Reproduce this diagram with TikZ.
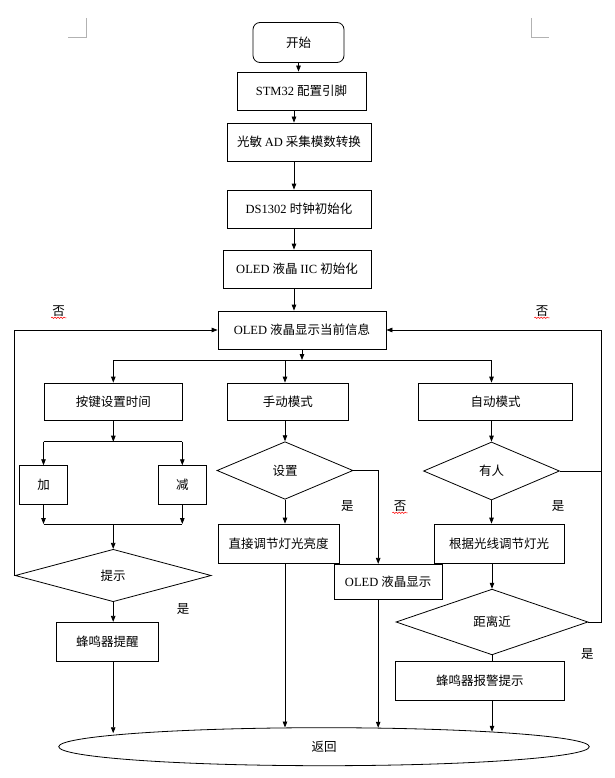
\documentclass[tikz,border=0pt]{standalone}
\usepackage{fontspec}
\setmainfont{Liberation Serif}
\newfontfamily\cjk{Noto Sans CJK SC}
\usetikzlibrary{shapes.geometric,arrows.meta,decorations.pathmorphing}

\tikzset{
  box/.style={draw, rectangle, inner sep=0pt, font=\cjk\fontsize{12.5}{15}\selectfont},
  choice/.style={draw, diamond, inner sep=0pt, font=\cjk\fontsize{12.5}{15}\selectfont},
  lbl/.style={inner sep=1pt, font=\cjk\fontsize{12.5}{15}\selectfont},
  arr/.style={-{Triangle[length=6pt,width=4.5pt]}},
  typo/.style={red, line width=0.5pt, decorate, decoration={snake, amplitude=0.7pt, segment length=3pt}},
}

\begin{document}
\begin{tikzpicture}[x=1pt, y=-1pt, line width=0.8pt]

\def\xr{601.4}; % right loop
\def\ybus{360};
\def\ysplit{441.7};
\def\ymerge{524};

\useasboundingbox (0,0) rectangle (614,778);

% page corner marks
\draw[gray!60, line width=0.5pt] (86,18) -- (86,37) -- (68,37);
\draw[gray!60, line width=0.5pt] (531,18) -- (531,37) -- (549,37);

% init chain
\node[box, rounded corners=7pt, minimum width=91pt, minimum height=40pt] (start) at (298.5,42.5) {开始};
\node[box, minimum width=129pt, minimum height=38pt] (stm) at (301.5,91) {\rmfamily STM32 \cjk 配置引脚};
\node[box, minimum width=144pt, minimum height=38pt] (adc) at (299,142) {光敏 \rmfamily AD \cjk 采集模数转换};
\node[box, minimum width=144pt, minimum height=38pt] (rtc) at (299,209) {\rmfamily DS1302 \cjk 时钟初始化};
\node[box, minimum width=148pt, minimum height=38pt] (iic) at (297,269) {\rmfamily OLED \cjk 液晶 \rmfamily IIC \cjk 初始化};
\node[box, minimum width=168pt, minimum height=38pt] (info) at (302,330) {\rmfamily OLED \cjk 液晶显示当前信息};

% three branches
\node[box, minimum width=138.5pt, minimum height=37pt] (key) at (113.3,401.5) {按键设置时间};
\node[box, minimum width=120.5pt, minimum height=37pt] (manual) at (287.8,401.5) {手动模式};
\node[box, minimum width=154pt, minimum height=37pt] (auto) at (495.5,401.5) {自动模式};

\node[box, minimum width=47.7pt, minimum height=38.6pt] (add) at (43.5,485) {加};
\node[box, minimum width=48pt, minimum height=38.6pt] (sub) at (182.3,485) {减};
\node[choice, minimum width=196pt, minimum height=52.4pt] (hint) at (113.2,575.5) {提示};
\node[box, minimum width=102pt, minimum height=39pt] (buzz) at (107.3,641.8) {蜂鸣器提醒};

\node[choice, minimum width=136pt, minimum height=57.6pt] (set) at (285,470.5) {设置};
\node[box, minimum width=121pt, minimum height=39.3pt] (direct) at (278.5,543.7) {直接调节灯光亮度};
\node[box, minimum width=108.4pt, minimum height=35pt] (oled) at (388.2,581.8) {\rmfamily OLED \cjk 液晶显示};

\node[choice, minimum width=136pt, minimum height=58pt] (person) at (491.5,471) {有人};
\node[box, minimum width=130pt, minimum height=39.3pt] (light) at (499.2,543.7) {根据光线调节灯光};
\node[choice, minimum width=192pt, minimum height=65.7pt] (near) at (492,622) {距离近};
\node[box, minimum width=168.7pt, minimum height=38.3pt] (alarm) at (479.9,680.8) {蜂鸣器报警提示};

\node[draw, ellipse, inner sep=0pt, minimum width=530.6pt, minimum height=38pt,
      font=\cjk\fontsize{12.5}{15}\selectfont] (ret) at (324,746.7) {返回};

% yes / no
\node[lbl] (no1) at (58.7,311) {否};
\node[lbl] (no2) at (542,311) {否};
\node[lbl] (yes1) at (347.3,506) {是};
\node[lbl] (no3) at (400,506) {否};
\node[lbl] (yes2) at (558,506) {是};
\node[lbl] (yes3) at (183.2,609) {是};
\node[lbl] (yes4) at (587.3,654) {是};
\foreach \n in {no1,no2,no3}
  \draw[typo] (\n.south west) -- (\n.south east);

\coordinate (axis) at (294,0);
\coordinate (bus) at (0,\ybus);
\coordinate (split) at (0,\ysplit);
\coordinate (merge) at (0,\ymerge);
\coordinate (rloop) at (\xr,330);

\draw[arr] (start.south) -- (start.south |- stm.north);
\draw[arr] (stm.south -| axis) -- (adc.north -| axis);
\draw[arr] (adc.south -| axis) -- (rtc.north -| axis);
\draw[arr] (rtc.south -| axis) -- (iic.north -| axis);
\draw[arr] (iic.south -| axis) -- (info.north -| axis);

\draw[arr] (info.south) -- (info.south |- bus);
\draw (key.north |- bus) -- (person.north |- bus);
\draw[arr] (key.north |- bus) -- (key.north);
\draw[arr] (set.north |- bus) -- (set.north |- manual.north);
\draw[arr] (person.north |- bus) -- (person.north |- auto.north);

% key branch
\draw[arr] (key.south) -- (key.south |- split);
\draw (add.north |- split) -- (sub.north |- split);
\foreach \n in {add,sub} {
  \draw[arr] (\n.north |- split) -- (\n.north);
  \draw[arr] (\n.south) -- (\n.south |- merge);
}
\draw (add.south |- merge) -- (sub.south |- merge);
\draw[arr] (hint.north |- merge) -- (hint.north);
\draw[arr] (hint.west) |- (info.west);
\draw[arr] (hint.south) -- (hint.south |- buzz.north);
\draw[arr] (hint.south |- buzz.south) -- (hint.south |- ret.176.9);

% manual branch
\draw[arr] (set.north |- manual.south) -- (set.north);
\draw[arr] (set.south) -- (set.south |- direct.north);
\draw[arr] (set.east) -| ([xshift=-10pt]oled.north);
\draw[arr] (set.south |- direct.south) -- (set.south |- ret.154.3);
\draw[arr] ([xshift=-10pt]oled.south) -- ([xshift=-10pt]oled.south |- ret.18.9);

% auto branch
\draw[arr] (person.north |- auto.south) -- (person.north);
\draw[arr] (person.south) -- (person.south |- light.north);
\draw[arr] (person.east) -| (rloop) -- (info.east);
\draw[arr] (near.north |- light.south) -- (near.north);
\draw (near.east) -| (rloop);
\draw (near.south) -- (near.south |- alarm.north);
\draw[arr] (near.south |- alarm.south) -- (near.south |- ret.5);

\end{tikzpicture}
\end{document}
